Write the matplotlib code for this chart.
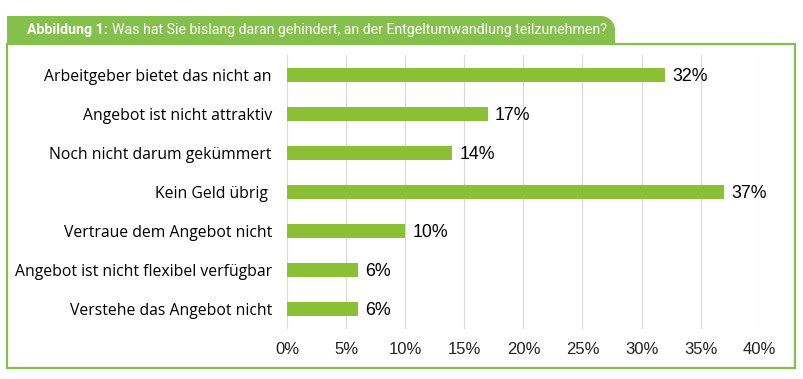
import matplotlib.pyplot as plt
import numpy as np
from matplotlib.patches import Rectangle, Polygon
from matplotlib.ticker import PercentFormatter

# Data
categories = [
    'Arbeitgeber bietet das nicht an',
    'Angebot ist nicht attraktiv',
    'Noch nicht darum gekümmert',
    'Kein Geld übrig ',
    'Vertraue dem Angebot nicht',
    'Angebot ist nicht flexibel verfügbar',
    'Verstehe das Angebot nicht',
]
values = [32, 17, 14, 37, 10, 6, 6]
x_ticks = [0, 5, 10, 15, 20, 25, 30, 35, 40]

title_bold = 'Abbildung 1:'
title_rest = 'Was hat Sie bislang daran gehindert, an der Entgeltumwandlung teilzunehmen?'

bar_color = '#8CC034'
frame_color = '#86C04C'

fig = plt.figure(figsize=(8.04, 3.79), dpi=100)
ax = fig.add_axes([0.357, 0.133, 0.588, 0.721])

y = np.arange(len(categories))
ax.barh(y, values, height=0.36, color=bar_color)
for i, v in enumerate(values):
    ax.annotate(f'{v}%', (v, i), xytext=(5, -1), textcoords='offset points',
                va='center', ha='left', fontsize=12.8, family='Liberation Sans')

ax.set_ylim(len(categories) - 0.5, -0.5)
ax.set_xlim(0, 40)
ax.set_xticks(x_ticks)
ax.xaxis.set_major_formatter(PercentFormatter(decimals=0))
ax.set_yticks(y)
ax.set_yticklabels(categories, fontsize=11.3, family='Open Sans')
for lab in ax.get_xticklabels():
    lab.set_family('Liberation Sans')
    lab.set_fontsize(12)
    lab.set_color('#222222')
ax.tick_params(axis='y', length=0, pad=11)
ax.tick_params(axis='x', length=0, pad=10)
ax.grid(axis='x', color='#d9d9d9', linewidth=0.8)
ax.set_axisbelow(True)
for s in ax.spines.values():
    s.set_visible(False)

# frame and header tab (in inches)
tr = fig.dpi_scale_trans
fig.patches.append(Rectangle((0.07, 0.11), 7.88, 3.24, fill=False,
                             edgecolor=frame_color, linewidth=1.6, transform=tr))
r = 0.14
t = np.linspace(0, np.pi / 2, 20)
corner = np.column_stack([6.15 - r + r * np.cos(t), 3.63 - r + r * np.sin(t)])
pts = np.vstack([[[0.07, 3.35], [6.15, 3.35]], corner, [[0.07, 3.63]]])
fig.patches.append(Polygon(pts, closed=True, facecolor=frame_color,
                           edgecolor='none', transform=tr))

# title: shrink font so the line ends at x=600 px like the reference
fs = 11
ty = 3.49 / 3.79
t1 = fig.text(0.27 / 8.04, ty, title_bold, color='white', fontsize=fs,
              weight='bold', va='center', ha='left', family='Roboto')
t2 = fig.text(0, ty, title_rest, color='white', fontsize=fs,
              va='center', ha='left', family='Roboto')
fig.canvas.draw()
w = t1.get_window_extent().width + 4 + t2.get_window_extent().width
fs = fs * (600 - 27) / w
t1.set_fontsize(fs)
t2.set_fontsize(fs)
fig.canvas.draw()
x2 = t1.get_window_extent().x1 + 4
t2.set_x(x2 / fig.bbox.width)

fig.savefig('out.png', dpi=100)
